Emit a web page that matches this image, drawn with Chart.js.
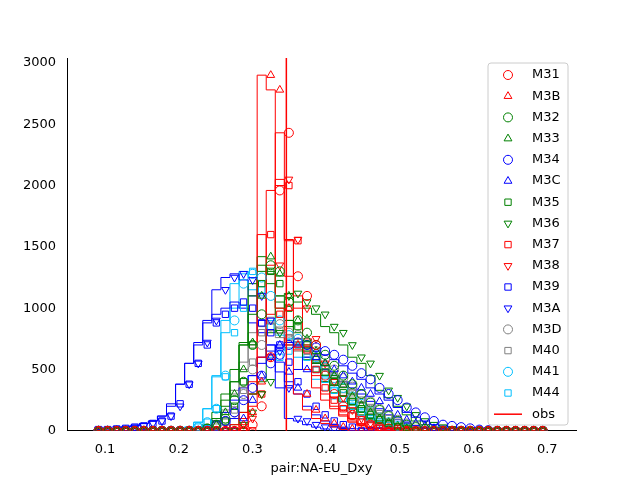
<!DOCTYPE html>
<html><head><script src="https://cdn.jsdelivr.net/npm/chart.js@4"></script>
<style>body{margin:0;background:#fff}#w{width:640px;height:480px}</style></head>
<body><div id="w"><canvas id="c"></canvas></div>
<script>
const binStart = 0.085, binWidth = 0.0123, nBins = 50;
const obsValue = 0.346;
const xLabel = "pair:NA-EU_Dxy";
function sp(o){const a=new Array(nBins).fill(0);for(const k in o)a[k]=o[k];return a;}
const M31 = sp({17:50,18:200,19:600,20:1960,21:2430,22:1260,23:1100,24:700,25:450,26:300,27:200,28:130,29:80,30:50,31:30,32:20,33:10});
const M3B = sp({16:50,17:150,18:400,19:2900,20:2780,21:1000,22:700,23:300,24:170,25:100,26:60,27:30,28:15});
const M32 = sp({12:20,13:50,14:100,15:250,16:400,17:700,18:950,19:1350,20:1300,21:1050,22:900,23:800,24:700,25:620,26:530,27:450,28:380,29:300,30:230,31:170,32:120,33:80,34:50,35:30,36:15});
const M33 = sp({13:50,14:150,15:300,16:500,17:720,18:1100,19:1420,20:1280,21:1100,22:900,23:750,24:650,25:550,26:450,27:370,28:280,29:210,30:150,31:100,32:70,33:40,34:20});
const M34 = sp({13:40,14:80,15:150,16:250,17:350,18:450,19:550,20:620,21:700,22:720,23:700,24:680,25:650,26:620,27:580,28:530,29:470,30:420,31:350,32:300,33:250,34:190,35:150,36:110,37:80,38:50,39:40,40:30,41:20,42:10,43:5});
const M3C = sp({16:100,17:250,18:450,19:600,20:700,21:480,22:350,23:500,24:600,25:550,26:500,27:450,28:400,29:350,30:300,31:240,32:180,33:130,34:90,35:60,36:40,37:20});
const M35 = sp({14:80,15:200,16:400,17:700,18:1200,19:1300,20:1200,21:1000,22:850,23:700,24:580,25:480,26:400,27:310,28:240,29:180,30:130,31:90,32:60,33:35,34:20});
const M36 = sp({16:50,17:150,18:300,19:400,20:800,21:1100,22:1120,23:1050,24:1000,25:950,26:850,27:800,28:700,29:600,30:550,31:450,32:330,33:270,34:200,35:130,36:80,37:50,38:30,39:15});
const M37 = sp({18:300,19:1600,20:950,21:2000,22:1550,23:660,24:500,25:350,26:250,27:180,28:120,29:70,30:40,31:20});
const M38 = sp({17:100,18:300,19:600,20:1350,21:2050,22:1560,23:1000,24:750,25:550,26:400,27:270,28:170,29:100,30:60,31:30});
const M39 = sp({0:10,1:10,2:15,3:20,4:30,5:40,6:60,7:80,8:120,9:220,10:380,11:550,12:700,13:880,14:950,15:1000,16:1050,17:1000,18:880,19:800,20:700,21:560,22:400,23:300,24:200,25:130,26:80,27:50,28:30});
const M3A = sp({0:10,1:10,2:15,3:20,4:30,5:40,6:60,7:80,8:120,9:200,10:380,11:550,12:720,13:900,14:1150,15:1250,16:1280,17:1230,18:1100,19:900,20:650,21:350,22:100,23:80,24:50,25:30,26:15});
const M3D = sp({13:40,14:80,15:150,16:300,17:500,18:700,19:850,20:870,21:800,22:780,23:720,24:650,25:580,26:500,27:430,28:360,29:300,30:240,31:180,32:130,33:90,34:60,35:40,36:20});
const M40 = sp({13:30,14:70,15:170,16:330,17:560,18:800,19:900,20:820,21:760,22:700,23:650,24:600,25:520,26:450,27:380,28:310,29:250,30:190,31:140,32:100,33:70,34:40,35:20});
const M41 = sp({11:30,12:70,13:180,14:450,15:900,16:1200,17:1280,18:1250,19:1100,20:900,21:780,22:750,23:700,24:600,25:520,26:430,27:350,28:280,29:220,30:160,31:110,32:70,33:40,34:20});
const M44 = sp({11:30,12:70,13:180,14:440,15:800,16:1000,17:1300,18:1150,19:850,20:600,21:650,22:700,23:600,24:500,25:420,26:330,27:260,28:200,29:150,30:100,31:70,32:40,33:20});

const series = [
 ['M31',M31,'red','circle'],['M3B',M3B,'red','up'],['M32',M32,'green','circle'],['M33',M33,'green','up'],
 ['M34',M34,'blue','circle'],['M3C',M3C,'blue','up'],['M35',M35,'green','rect'],['M36',M36,'green','down'],
 ['M37',M37,'red','rect'],['M38',M38,'red','down'],['M39',M39,'blue','rect'],['M3A',M3A,'blue','down'],
 ['M3D',M3D,'gray','circle'],['M40',M40,'gray','rect'],['M41',M41,'#00bfff','circle'],['M44',M44,'#00bfff','rect']];

const datasets = [];
series.forEach(([name,vals,col,mk])=>{
  const edges=[];
  for(let i=0;i<nBins;i++){const l=binStart+i*binWidth;edges.push({x:l,y:vals[i]});}
  edges.push({x:binStart+nBins*binWidth,y:vals[nBins-1]});
  datasets.push({label:'_'+name,data:[{x:binStart,y:0}].concat(edges).concat([{x:binStart+nBins*binWidth,y:0}]),showLine:true,stepped:'after',borderColor:col,borderWidth:1,pointRadius:0,fill:false,order:1});
  datasets.push({label:name,data:vals.map((v,i)=>({x:binStart+(i+0.5)*binWidth,y:v})),showLine:false,borderColor:col,backgroundColor:'rgba(0,0,0,0)',borderWidth:1,
    pointStyle:mk==='circle'?'circle':mk==='rect'?'rect':'triangle',pointRotation:mk==='down'?180:0,pointRadius:4.5,order:0});
});

const extra={id:'extra',afterDatasetsDraw(ch){
  const ctx=ch.ctx,xs=ch.scales.x,a=ch.chartArea;
  const px=xs.getPixelForValue(obsValue);
  ctx.save();ctx.strokeStyle='red';ctx.lineWidth=1.5;ctx.beginPath();ctx.moveTo(px,a.top);ctx.lineTo(px,a.bottom);ctx.stroke();
  const items=series.map(s=>[s[0],s[2],s[3]]).concat([['obs','red','line']]);
  const lx=488,ly=63,lw=80,lh=362;
  ctx.fillStyle='rgba(255,255,255,0.8)';ctx.strokeStyle='#ccc';ctx.lineWidth=1;
  ctx.beginPath();ctx.roundRect(lx,ly,lw,lh,3);ctx.fill();ctx.stroke();
  ctx.font='13px "DejaVu Sans"';ctx.textBaseline='middle';
  items.forEach((it,i)=>{
    const y=ly+12+i*21.2, mx=lx+20;
    ctx.strokeStyle=it[1];ctx.lineWidth=1;
    if(it[2]==='line'){ctx.lineWidth=1.5;ctx.beginPath();ctx.moveTo(lx+6,y);ctx.lineTo(lx+34,y);ctx.stroke();}
    else{ctx.fillStyle='rgba(0,0,0,0)';Chart.helpers.drawPoint(ctx,{pointStyle:it[2]==='circle'?'circle':it[2]==='rect'?'rect':'triangle',rotation:it[2]==='down'?180:0,radius:4.5,borderWidth:1},mx,y);}
    ctx.fillStyle='#000';ctx.fillText(it[0],lx+44,y);
  });
  ctx.restore();
}};

new Chart(document.getElementById('c'),{type:'scatter',data:{datasets},plugins:[extra],
 options:{responsive:true,maintainAspectRatio:false,animation:false,
  layout:{padding:{left:20,right:64,top:58,bottom:0}},
  plugins:{legend:{display:false},tooltip:{enabled:false}},
  scales:{
   x:{type:'linear',min:0.0485,max:0.739,grid:{display:false},border:{color:'#000'},
      ticks:{color:'#000',font:{size:13,family:'DejaVu Sans'},callback:v=>(Math.round(v*10)/10).toFixed(1)},
      afterBuildTicks:s=>{s.ticks=[0.1,0.2,0.3,0.4,0.5,0.6,0.7].map(v=>({value:v}));},
      title:{display:true,text:xLabel,color:'#000',font:{size:13,family:'DejaVu Sans'},padding:{top:0,bottom:4}}},
   y:{min:0,max:3040,grid:{display:false},border:{color:'#000'},
      afterBuildTicks:s=>{s.ticks=[0,500,1000,1500,2000,2500,3000].map(v=>({value:v}));},
      ticks:{color:'#000',font:{size:13,family:'DejaVu Sans'},callback:v=>String(v)}}
  }}});
</script></body></html>
